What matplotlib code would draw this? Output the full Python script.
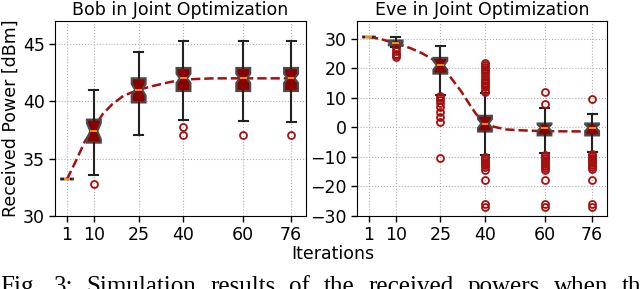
import matplotlib
matplotlib.use("Agg")
import matplotlib.pyplot as plt

iterations = [1, 10, 25, 40, 60, 76]

# Bob: box statistics
bob_med = [33.2, 37.4, 41.0, 42.0, 42.0, 42.0]
bob_q1 = [33.2, 36.4, 39.9, 40.9, 40.9, 40.9]
bob_q3 = [33.2, 38.4, 42.0, 42.9, 42.9, 42.9]
bob_lo = [33.2, 33.6, 37.1, 38.4, 38.3, 38.2]
bob_hi = [33.2, 41.0, 44.3, 45.3, 45.3, 45.3]
bob_notch = [0.0, 0.7, 0.5, 0.4, 0.4, 0.4]
bob_fliers = [[], [32.8], [], [37.8, 37.1], [37.1], [37.1]]
bob_trend_x = [1, 4, 7, 10, 13, 16, 20, 25, 30, 35, 40, 50, 60, 76]
bob_trend_y = [33.2, 34.8, 36.5, 37.7, 38.9, 39.7, 40.5, 41.0, 41.35, 41.65,
               41.9, 42.0, 42.0, 42.0]

# Eve: box statistics
eve_med = [30.5, 28.5, 21.0, 1.3, -0.1, -0.1]
eve_q1 = [30.5, 27.8, 18.2, -1.4, -2.7, -2.7]
eve_q3 = [30.5, 29.4, 23.5, 3.9, 1.3, 1.3]
eve_lo = [30.5, 27.2, 10.9, -9.4, -8.6, -8.2]
eve_hi = [30.5, 30.6, 27.5, 11.5, 6.6, 4.4]
eve_notch = [0.0, 0.4, 1.5, 1.5, 1.1, 1.1]
eve_fliers = [
    [],
    [26.7, 25.8, 25.0, 24.4, 23.9],
    [10.5, 9.8, 9.1, 8.4, 7.0, 5.3, 3.6, 1.9, -10.5],
    [12.0, 12.8, 13.5, 14.2, 15.0, 15.8, 16.5, 17.5, 18.3, 19.0, 19.8, 20.5,
     21.2, 21.8, -9.9, -10.5, -11.0, -11.6, -12.2, -12.8, -13.5, -14.3,
     -17.8, -25.8, -26.8],
    [7.9, 12.0, -9.2, -9.8, -10.4, -11.0, -11.6, -12.3, -13.0, -13.8, -14.5,
     -17.8, -25.8, -26.8],
    [9.6, -9.0, -9.6, -10.2, -10.8, -11.4, -12.0, -12.7, -13.4, -14.2,
     -17.8, -25.8, -26.8],
]
eve_trend_x = [1, 5, 10, 15, 19, 23, 25, 28, 32, 35, 37, 40, 43, 47, 52, 60, 76]
eve_trend_y = [30.6, 29.9, 28.4, 26.8, 25.0, 22.7, 21.0, 17.5, 12.2, 7.5, 4.5,
               1.5, 0.2, -0.7, -1.0, -1.3, -1.4]

caption = "Fig. 3: Simulation results of the received powers when the"

RED = "#8b0000"
FS = 12.5


def make_stats(med, q1, q3, lo, hi, notch, fliers):
    stats = []
    for i in range(len(med)):
        stats.append({
            "med": med[i], "q1": q1[i], "q3": q3[i],
            "whislo": lo[i], "whishi": hi[i],
            "cilo": med[i] - notch[i], "cihi": med[i] + notch[i],
            "fliers": fliers[i],
        })
    return stats


def draw_panel(ax, stats, tx, ty, title, ylim, yticks):
    ax.plot(tx, ty, "--", color="#a50f0f", lw=1.8, zorder=2)
    ax.bxp(stats, positions=iterations, widths=4.6, capwidths=3.0,
           shownotches=True, patch_artist=True, manage_ticks=False,
           boxprops=dict(facecolor=RED, edgecolor="#4a4a4a", linewidth=1.6),
           medianprops=dict(color="#ff8c00", linewidth=1.4),
           whiskerprops=dict(color="#222222", linewidth=1.5),
           capprops=dict(color="#222222", linewidth=1.5),
           flierprops=dict(marker="o", markerfacecolor="none",
                           markeredgecolor="#a50f0f", markersize=5,
                           markeredgewidth=1.3, linestyle="none"),
           zorder=3)
    ax.set_xlim(-3, 81)
    ax.set_ylim(*ylim)
    ax.set_xticks(iterations)
    ax.set_xticklabels([str(v) for v in iterations])
    ax.set_yticks(yticks)
    ax.grid(True, linestyle=":", color="#b0b0b0", linewidth=0.8)
    ax.set_axisbelow(True)
    ax.tick_params(labelsize=FS, length=4, width=1)
    ax.set_title(title, fontsize=FS, pad=4)


fig = plt.figure(figsize=(6.4, 2.89), dpi=100)
ax1 = fig.add_axes([55 / 640, 73 / 289, 251 / 640, 195 / 289])
ax2 = fig.add_axes([357 / 640, 73 / 289, 250 / 640, 195 / 289])

draw_panel(ax1, make_stats(bob_med, bob_q1, bob_q3, bob_lo, bob_hi,
                           bob_notch, bob_fliers),
           bob_trend_x, bob_trend_y, "Bob in Joint Optimization",
           (30, 47), [30, 35, 40, 45])
draw_panel(ax2, make_stats(eve_med, eve_q1, eve_q3, eve_lo, eve_hi,
                           eve_notch, eve_fliers),
           eve_trend_x, eve_trend_y, "Eve in Joint Optimization",
           (-30, 36), [-30, -20, -10, 0, 10, 20, 30])

ax1.set_ylabel("Received Power [dBm]", fontsize=FS, labelpad=2)
fig.text(333 / 640, 35 / 289, "Iterations", fontsize=FS,
         ha="center", va="center")

# caption line of the paper, running past the right edge and cut at the bottom
renderer = fig.canvas.get_renderer()
words = caption.split()
texts = [fig.text(0, -4 / 289, w, fontsize=18, family="Liberation Serif",
                  va="baseline") for w in words]
widths = [t.get_window_extent(renderer).width for t in texts]
gap = (622 - sum(widths[:-1])) / (len(words) - 1)
x = 0
for t, w in zip(texts, widths):
    t.set_x(x / 640)
    x += w + gap

fig.savefig("out.png", dpi=100)
